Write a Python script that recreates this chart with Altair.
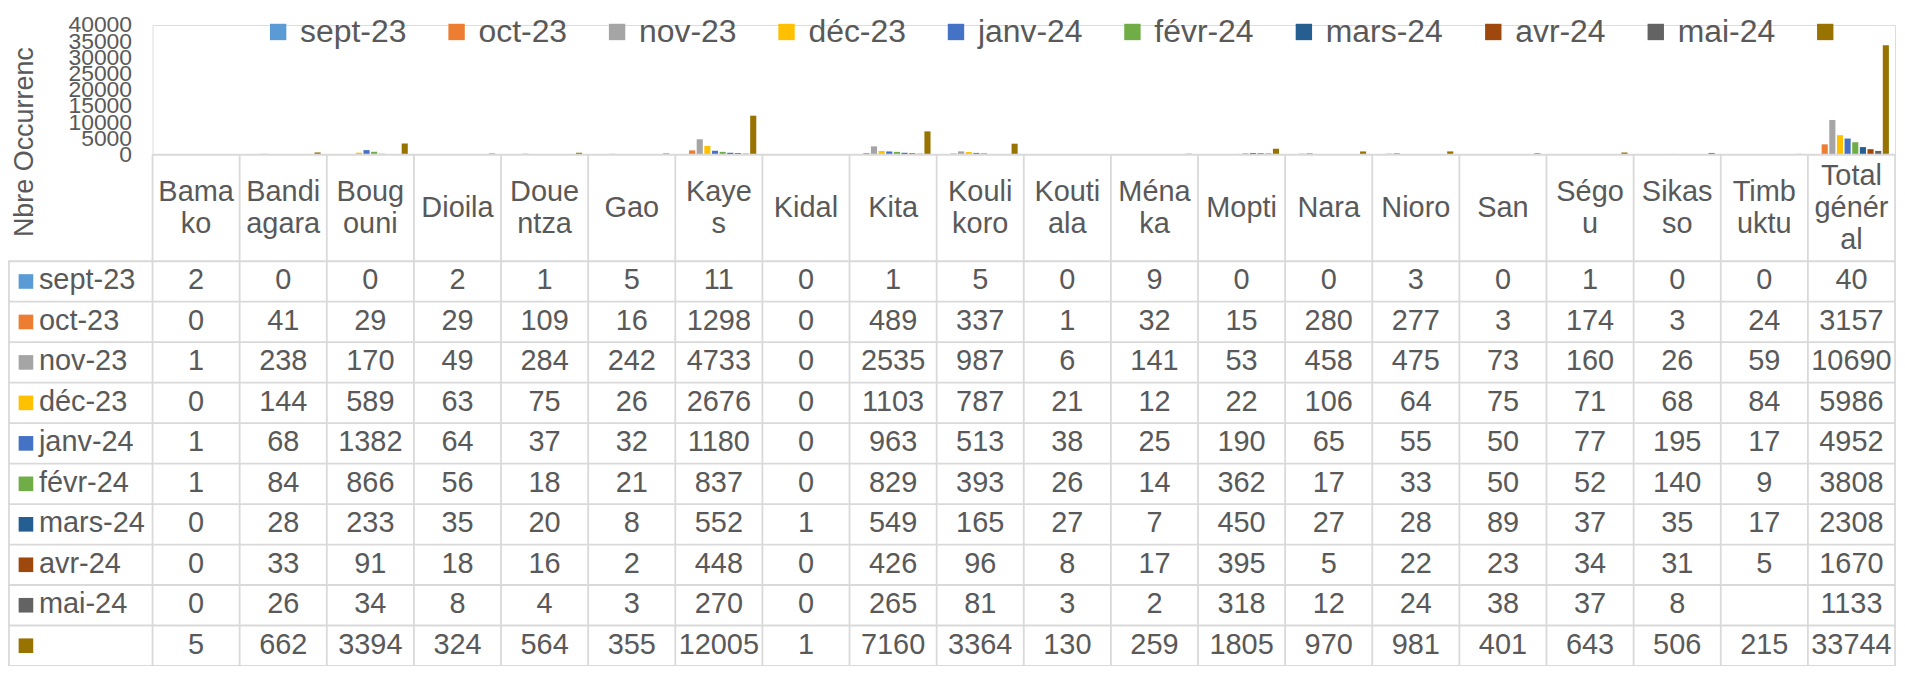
import altair as alt
import pandas as pd

FONT = "Liberation Sans"
TXT = "#595959"
GRID = "#D9D9D9"

regions = ["Bamako", "Bandiagara", "Bougouni", "Dioila", "Douentza", "Gao", "Kayes",
           "Kidal", "Kita", "Koulikoro", "Koutiala", "Ménaka", "Mopti", "Nara", "Nioro",
           "San", "Ségou", "Sikasso", "Timbuktu", "Total général"]
header_labels = ["Bama\nko", "Bandi\nagara", "Boug\nouni", "Dioila", "Doue\nntza", "Gao",
                 "Kaye\ns", "Kidal", "Kita", "Kouli\nkoro", "Kouti\nala", "Ména\nka",
                 "Mopti", "Nara", "Nioro", "San", "Ségo\nu", "Sikas\nso", "Timb\nuktu",
                 "Total\ngénér\nal"]
series = ["sept-23", "oct-23", "nov-23", "déc-23", "janv-24", "févr-24", "mars-24",
          "avr-24", "mai-24", " "]
colors = ["#5B9BD5", "#ED7D31", "#A5A5A5", "#FFC000", "#4472C4", "#70AD47", "#255E91",
          "#9E480E", "#636363", "#997300"]

sept_23 = [2, 0, 0, 2, 1, 5, 11, 0, 1, 5, 0, 9, 0, 0, 3, 0, 1, 0, 0, 40]
oct_23 = [0, 41, 29, 29, 109, 16, 1298, 0, 489, 337, 1, 32, 15, 280, 277, 3, 174, 3, 24, 3157]
nov_23 = [1, 238, 170, 49, 284, 242, 4733, 0, 2535, 987, 6, 141, 53, 458, 475, 73, 160, 26, 59, 10690]
dec_23 = [0, 144, 589, 63, 75, 26, 2676, 0, 1103, 787, 21, 12, 22, 106, 64, 75, 71, 68, 84, 5986]
janv_24 = [1, 68, 1382, 64, 37, 32, 1180, 0, 963, 513, 38, 25, 190, 65, 55, 50, 77, 195, 17, 4952]
fevr_24 = [1, 84, 866, 56, 18, 21, 837, 0, 829, 393, 26, 14, 362, 17, 33, 50, 52, 140, 9, 3808]
mars_24 = [0, 28, 233, 35, 20, 8, 552, 1, 549, 165, 27, 7, 450, 27, 28, 89, 37, 35, 17, 2308]
avr_24 = [0, 33, 91, 18, 16, 2, 448, 0, 426, 96, 8, 17, 395, 5, 22, 23, 34, 31, 5, 1670]
mai_24 = [0, 26, 34, 8, 4, 3, 270, 0, 265, 81, 3, 2, 318, 12, 24, 38, 37, 8, None, 1133]
total = [5, 662, 3394, 324, 564, 355, 12005, 1, 7160, 3364, 130, 259, 1805, 970, 981, 401,
         643, 506, 215, 33744]

series_values = [sept_23, oct_23, nov_23, dec_23, janv_24, fevr_24, mars_24, avr_24,
                 mai_24, total]

rows = []
for s, vals in zip(series, series_values):
    for r, v in zip(regions, vals):
        rows.append({"series": s, "region": r, "value": v,
                     "label": "" if v is None else str(v)})
df = pd.DataFrame(rows)
hdr_df = pd.DataFrame({"region": regions, "hdr": header_labels})
hdr_df["nlines"] = hdr_df["hdr"].str.count("\n") + 1
lab_df = pd.DataFrame({"series": series, "col": colors})

# layout (pixels)
PAD_L = 145
PLOT_W = 1748
PLOT_H = 130
HDR_BOTTOM = 237
ROW_H = 40.6
TBL_BOTTOM = HDR_BOTTOM + ROW_H * len(series)
LEFT_EDGE = -PAD_L
LINE_H = 32

x_scale = alt.Scale(type="band", domain=regions, paddingInner=0, paddingOuter=0)
row_scale = alt.Scale(type="band", domain=series, range=[HDR_BOTTOM, TBL_BOTTOM],
                      paddingInner=0, paddingOuter=0)
X = alt.X("region:N", scale=x_scale, axis=None)

bars = alt.Chart(df).mark_bar().encode(
    x=X,
    xOffset=alt.XOffset("series:N", sort=series,
                        scale=alt.Scale(domain=series, paddingInner=0.2, paddingOuter=0.8)),
    y=alt.Y("value:Q", scale=alt.Scale(domain=[0, 40000]),
            axis=alt.Axis(values=list(range(0, 40001, 5000)), format="d",
                          title="Nbre Occurrenc",
                          grid=False, domain=False, ticks=False, labelOverlap=False,
                          labelFlush=False, labelBound=False, labelPadding=21,
                          labelFontSize=23, labelFont=FONT, labelColor=TXT,
                          titleFont=FONT, titleFontSize=27, titleColor=TXT,
                          titleFontWeight="normal", titleAngle=270, titleX=-128,
                          titleY=117, titleAlign="center", titleBaseline="middle")),
    color=alt.Color("series:N", scale=alt.Scale(domain=series, range=colors),
                    legend=alt.Legend(orient="none", legendX=110, legendY=-9,
                                      direction="horizontal", columns=10, title=None,
                                      symbolType="square", symbolSize=270,
                                      symbolStrokeWidth=0, labelFontSize=32,
                                      labelFont=FONT, labelColor=TXT, labelOffset=6,
                                      columnPadding=34, labelLimit=0, padding=0)),
)

cells = alt.Chart(df).mark_text(fontSize=29, font=FONT, color=TXT, baseline="middle",
                                dy=-1).encode(
    x=X,
    y=alt.Y("series:N", scale=row_scale, axis=None),
    text="label:N",
)

HDR_MID = (PLOT_H + HDR_BOTTOM) / 2
header_layers = []
for n in (1, 2, 3):
    header_layers.append(
        alt.Chart(hdr_df[hdr_df["nlines"] == n]).mark_text(
            fontSize=29, font=FONT, color=TXT, baseline="middle",
            lineBreak="\n", lineHeight=LINE_H, dy=-(n - 1) * LINE_H / 2).encode(
            x=X,
            y=alt.value(HDR_MID),
            text="hdr:N",
        )
    )

squares = alt.Chart(lab_df).mark_square(size=215, opacity=1).encode(
    x=alt.value(LEFT_EDGE + 18),
    y=alt.Y("series:N", scale=row_scale, axis=None),
    color=alt.Color("col:N", scale=None),
)

row_labels = alt.Chart(lab_df).mark_text(fontSize=29, font=FONT, color=TXT, align="left",
                                         baseline="middle", dy=-1).encode(
    x=alt.value(LEFT_EDGE + 31),
    y=alt.Y("series:N", scale=row_scale, axis=None),
    text="series:N",
)

RULE = dict(color=GRID, strokeWidth=1.8)
hlines = alt.Chart(lab_df).mark_rule(**RULE).encode(
    y=alt.Y("series:N", scale=row_scale, axis=None, bandPosition=0),
    x=alt.value(LEFT_EDGE),
    x2=alt.value(PLOT_W),
)
hline_bottom = alt.Chart(lab_df.tail(1)).mark_rule(**RULE).encode(
    y=alt.Y("series:N", scale=row_scale, axis=None, bandPosition=1),
    x=alt.value(LEFT_EDGE),
    x2=alt.value(PLOT_W),
)
hline_top = alt.Chart(hdr_df.head(1)).mark_rule(**RULE).encode(
    y=alt.value(PLOT_H),
    x=alt.value(0),
    x2=alt.value(PLOT_W),
)
vlines = alt.Chart(hdr_df).mark_rule(**RULE).encode(
    x=alt.X("region:N", scale=x_scale, axis=None, bandPosition=0),
    y=alt.value(PLOT_H),
    y2=alt.value(TBL_BOTTOM),
)
vline_right = alt.Chart(hdr_df.tail(1)).mark_rule(**RULE).encode(
    x=alt.X("region:N", scale=x_scale, axis=None, bandPosition=1),
    y=alt.value(PLOT_H),
    y2=alt.value(TBL_BOTTOM),
)
vline_left = alt.Chart(hdr_df.head(1)).mark_rule(**RULE).encode(
    x=alt.value(LEFT_EDGE + 1),
    y=alt.value(HDR_BOTTOM),
    y2=alt.value(TBL_BOTTOM),
)

table = alt.layer(hlines, hline_bottom, hline_top, vlines, vline_right, vline_left,
                  cells, *header_layers, squares, row_labels)

chart = alt.layer(bars, table).resolve_scale(y="independent").properties(
    width=PLOT_W,
    height=PLOT_H,
    autosize="none",
    padding={"left": PAD_L, "top": 16, "right": 2, "bottom": 512},
).configure_view(strokeWidth=0).configure(font=FONT)

chart.save("out.html", embed_options={"renderer": "svg", "actions": False})
